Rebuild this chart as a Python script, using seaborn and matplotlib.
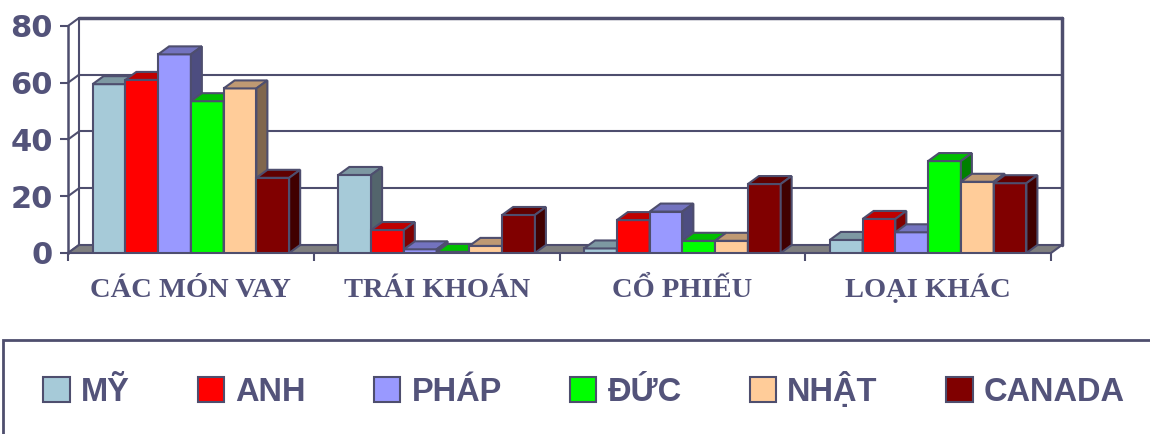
import pandas as pd
import matplotlib
matplotlib.use("Agg")
import matplotlib.pyplot as plt
from matplotlib.patches import Polygon, Rectangle, Patch
from matplotlib.colors import to_rgb
import seaborn as sns

# ==================================================
# DATA
# ==================================================

loai = ["CÁC MÓN VAY", "TRÁI KHOÁN", "CỔ PHIẾU", "LOẠI KHÁC"]
nuoc = ["MỸ", "ANH", "PHÁP", "ĐỨC", "NHẬT", "CANADA"]
mau = ["#A6CAD8", "#FF0000", "#9999FF", "#00FF00", "#FFCC99", "#800000"]

my = [59.5, 27.5, 1.6, 4.6]
anh = [61, 8.1, 11.6, 12]
phap = [70, 1.3, 14.6, 7.3]
duc = [53.5, 0.4, 4.3, 32.4]
nhat = [58, 2.5, 4.3, 25.1]
canada = [26.5, 13.4, 24.3, 24.6]

yticks = [0, 20, 40, 60, 80]

rows = []
for ten, vals in zip(nuoc, [my, anh, phap, duc, nhat, canada]):
    for l, v in zip(loai, vals):
        rows.append({"loai": l, "nuoc": ten, "ty_le": v})
df = pd.DataFrame(rows)

# ==================================================
# STYLE
# ==================================================

sns.set_style("white")
plt.rcParams['font.family'] = ['Liberation Sans', 'DejaVu Sans']
SLATE = "#53537A"
EDGE = "#4E4E6E"

W, H = 1150, 434
fig = plt.figure(figsize=(W / 100, H / 100), dpi=100)
ax = fig.add_axes([68 / W, (H - 253) / H, (1062 - 68) / W, (253 - 18) / H])

# depth of the fake 3d effect (data units)
dx = 11 / 246
dy = 8 / (227 / 80)

# ==================================================
# BARS
# ==================================================

sns.barplot(data=df, x="loai", y="ty_le", hue="nuoc", order=loai, hue_order=nuoc,
            palette=mau, saturation=1, width=0.8, edgecolor=EDGE, linewidth=1.5,
            legend=False, ax=ax)

def shade(c, f):
    r, g, b = to_rgb(c)
    return (r * f, g * f, b * f)

for k, cont in enumerate(ax.containers):
    z = 3 + k
    for bar in cont.patches:
        bar.set_zorder(z)
        x0, w, h = bar.get_x(), bar.get_width(), bar.get_height()
        fc = bar.get_facecolor()
        top = Polygon([(x0, h), (x0 + w, h), (x0 + w + dx, h + dy), (x0 + dx, h + dy)],
                      closed=True, fc=shade(fc, 0.75), ec=EDGE, lw=1.5, zorder=z)
        side = Polygon([(x0 + w, 0), (x0 + w + dx, dy), (x0 + w + dx, h + dy), (x0 + w, h)],
                       closed=True, fc=shade(fc, 0.5), ec=EDGE, lw=1.5, zorder=z)
        ax.add_patch(top)
        ax.add_patch(side)

# ==================================================
# WALLS AND FLOOR
# ==================================================

x_left, x_right = -0.5, len(loai) - 0.5

for v in yticks[1:-1]:
    ax.plot([x_left + dx, x_right + dx], [v + dy, v + dy], color=EDGE, lw=1.5, zorder=1)
for v in yticks:
    ax.plot([x_left, x_left + dx], [v, v + dy], color=EDGE, lw=1.5, zorder=1, clip_on=False)
ax.plot([x_left + dx, x_right + dx], [80 + dy, 80 + dy], color=EDGE, lw=2.5, zorder=1, clip_on=False)
ax.plot([x_left + dx, x_left + dx], [dy, 80 + dy], color=EDGE, lw=1.5, zorder=1, clip_on=False)
ax.plot([x_right + dx, x_right + dx], [dy, 80 + dy], color=EDGE, lw=2.5, zorder=1, clip_on=False)

floor = Polygon([(x_left, 0), (x_right, 0), (x_right + dx, dy), (x_left + dx, dy)],
                closed=True, fc="#7F7F7F", ec=EDGE, lw=1.5, zorder=2, clip_on=False)
ax.add_patch(floor)

# ==================================================
# AXES
# ==================================================

ax.set_xlim(x_left, x_right + dx)
ax.set_ylim(0, 80 + dy)
ax.set_xlabel("")
ax.set_ylabel("")

for s in ["top", "right", "bottom"]:
    ax.spines[s].set_visible(False)
ax.spines["left"].set_bounds(0, 80)
ax.spines["left"].set_color(EDGE)
ax.spines["left"].set_linewidth(1.8)

ax.set_yticks(yticks)
ax.set_yticklabels([str(v) for v in yticks], family="DejaVu Sans", fontweight="bold",
                   fontsize=22, color=SLATE)
ax.tick_params(axis="y", direction="out", length=6, width=1.5, color=EDGE, pad=5, left=True)

ax.set_xticks(range(len(loai)))
ax.set_xticklabels(loai, family=["Liberation Serif", "DejaVu Serif"], fontweight="bold",
                   fontsize=20.5, color=SLATE, va="baseline")
ax.set_xticks([x_left + i for i in range(len(loai) + 1)], minor=True)
ax.tick_params(axis="x", which="major", length=0, pad=32)
ax.tick_params(axis="x", which="minor", direction="out", length=6, width=1.5,
               color=EDGE, bottom=True)

# ==================================================
# LEGEND
# ==================================================

fig.add_artist(Rectangle((3 / W, -0.5), 2, 0.5 + (H - 340) / H, fill=False,
                         ec=EDGE, lw=2, transform=fig.transFigure))

handles = [Patch(facecolor=c, edgecolor=EDGE, linewidth=1.5) for c in mau]
fig.legend(handles, nuoc, loc="center", bbox_to_anchor=(584 / W, (H - 390) / H), ncol=6,
           frameon=False, handlelength=0.8, handleheight=0.8, handletextpad=0.34,
           columnspacing=2.1, labelcolor=SLATE,
           prop={"family": ["Liberation Sans", "DejaVu Sans"], "weight": "bold", "size": 23.5})

plt.savefig("out.png", dpi=100)
